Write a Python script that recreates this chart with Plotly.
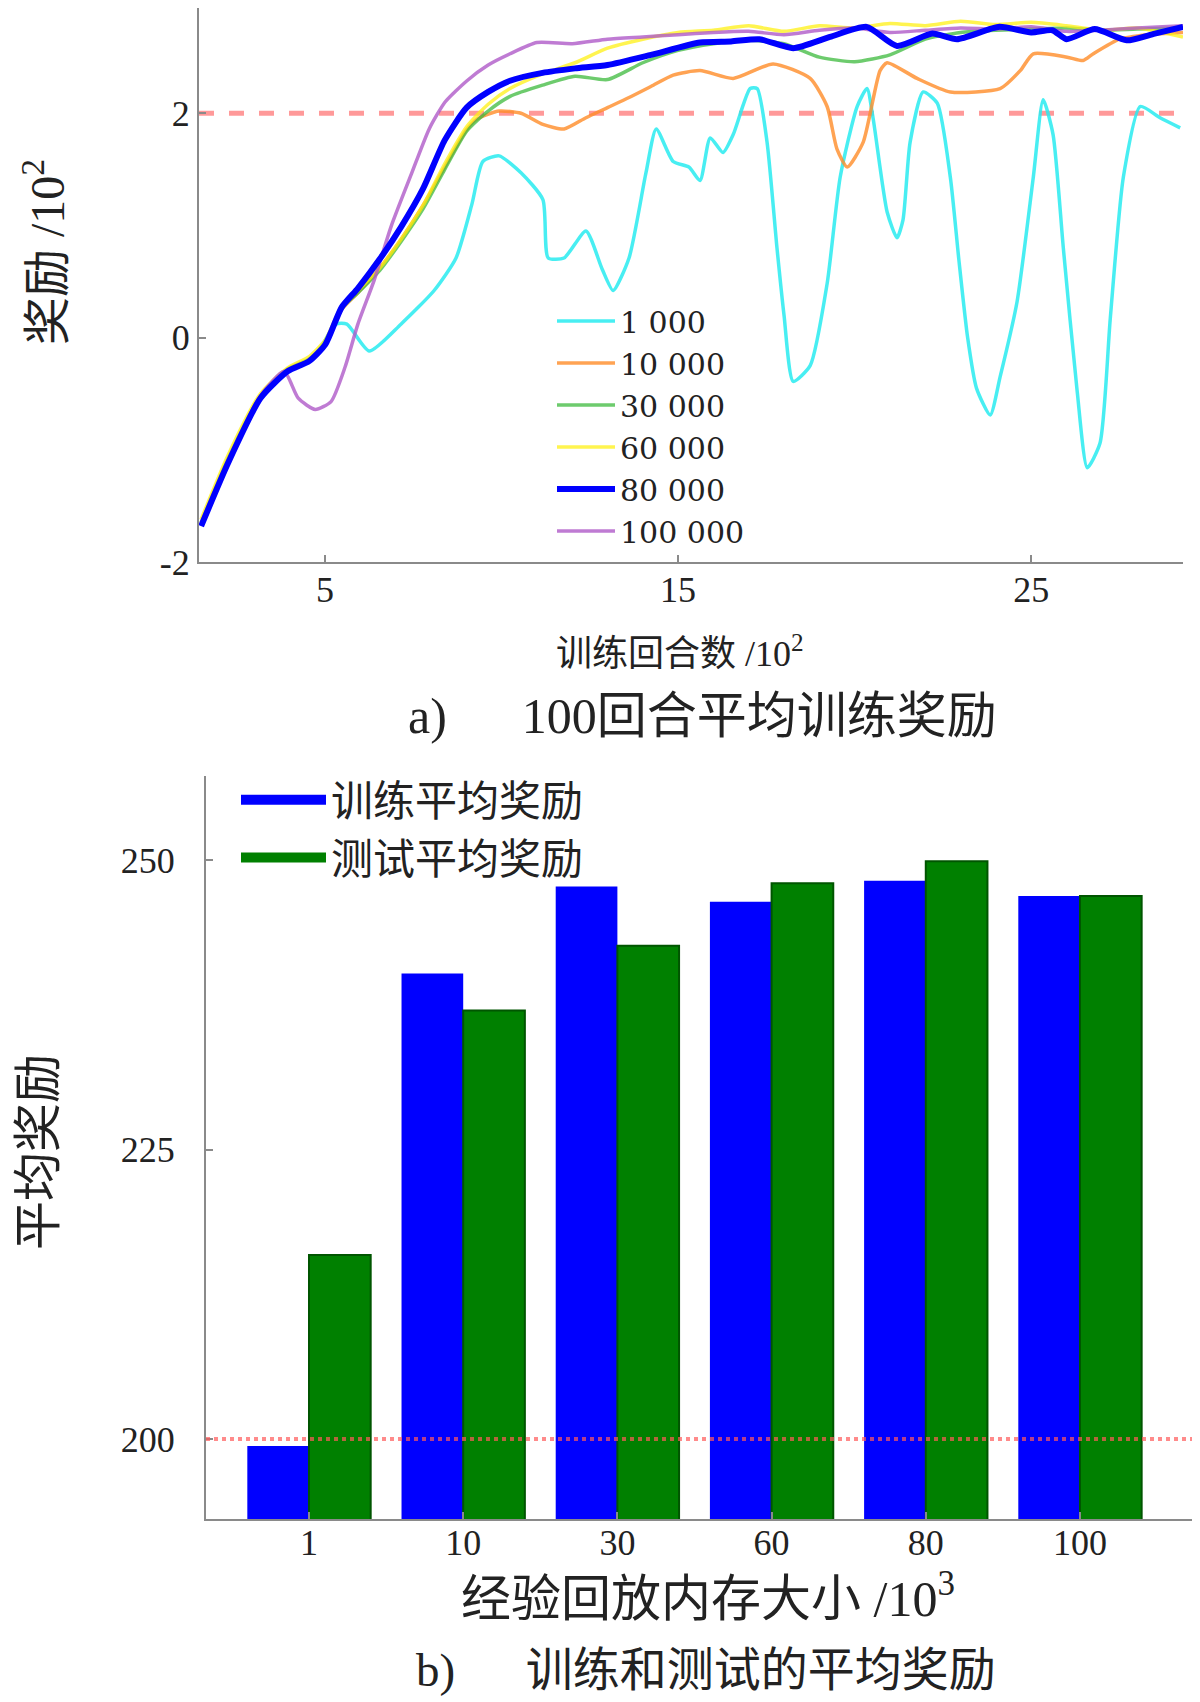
import plotly.graph_objects as go

W, H = 1200, 1702
OFF = 8  # page body margin of the written html

# ---------------- Top chart data (x: episodes /10^2, y: reward /10^2) ----------------
series_names = ["1 000", "10 000", "30 000", "60 000", "80 000", "100 000"]

x_1k = [1.49, 2.25, 3.17, 3.94, 4.72, 5.31, 5.62, 6.25, 7.15, 8.09, 8.71, 9.16, 9.47, 9.93, 10.55,
        11.17, 11.32, 11.77, 12.39, 12.85, 13.16, 13.61, 14.09, 14.38, 14.86, 15.31, 15.62, 15.91,
        16.27, 16.56, 17.04, 17.24, 17.52, 17.80, 18.0, 18.26, 18.74, 19.22, 19.59, 20.07, 20.35,
        20.52, 20.92, 21.20, 21.37, 21.57, 21.94, 22.34, 22.71, 22.95, 23.2, 23.45, 23.84, 24.12,
        24.60, 25.06, 25.34, 25.62, 25.91, 26.30, 26.59, 26.95, 27.24, 27.61, 28.09, 28.65, 29.22]
y_1k = [-1.67, -1.12, -0.54, -0.31, -0.16, 0.12, 0.12, -0.12, 0.12, 0.42, 0.71, 1.19, 1.57, 1.62, 1.47,
        1.23, 0.71, 0.71, 0.95, 0.61, 0.42, 0.71, 1.47, 1.86, 1.57, 1.52, 1.40, 1.78,
        1.65, 1.81, 2.22, 2.22, 1.74, 0.80, 0.20, -0.39, -0.25, 0.48, 1.43, 2.06, 2.22,
        1.96, 1.12, 0.89, 1.05, 1.74, 2.19, 2.09, 1.43, 0.70, 0.00, -0.45, -0.69, -0.35,
        0.32, 1.43, 2.12, 1.81, 0.80, -0.47, -1.16, -0.94, 0.17, 1.43, 2.06, 1.96, 1.87]

x_10k = [1.49, 2.25, 3.17, 3.94, 4.55, 5.01, 5.47, 5.93, 6.55, 7.16, 7.78, 8.39, 9.0, 9.31, 9.93, 10.55,
         11.17, 11.77, 12.39, 13.0, 13.61, 14.24, 14.86, 15.62, 16.56, 17.69, 18.74, 19.22, 19.5,
         19.79, 20.24, 20.72, 20.92, 21.77, 22.71, 24.12, 24.69, 25.06, 26.02, 26.47, 26.76, 27.5,
         28.3, 29.3]
y_10k = [-1.66, -1.10, -0.53, -0.29, -0.20, -0.05, 0.25, 0.40, 0.62, 0.88, 1.18, 1.52, 1.85, 1.95, 2.02, 2.0,
         1.90, 1.86, 1.96, 2.05, 2.14, 2.24, 2.34, 2.38, 2.31, 2.44, 2.31, 2.06, 1.68,
         1.52, 1.74, 2.38, 2.45, 2.31, 2.19, 2.22, 2.38, 2.53, 2.50, 2.47, 2.53, 2.66,
         2.70, 2.72]

x_30k = [1.49, 2.25, 3.17, 3.94, 4.55, 5.01, 5.47, 5.93, 6.55, 7.16, 7.78, 8.39, 9.01, 9.62, 10.24,
         11.16, 12.08, 13.0, 14.0, 15.0, 16.0, 17.0, 18.0, 19.0, 20.0, 21.0, 22.0, 23.0, 24.0,
         25.0, 26.0, 27.0, 28.0, 29.3]
y_30k = [-1.65, -1.08, -0.52, -0.28, -0.19, -0.04, 0.26, 0.40, 0.60, 0.86, 1.15, 1.50, 1.84, 2.02, 2.15,
         2.25, 2.33, 2.30, 2.45, 2.56, 2.62, 2.65, 2.62, 2.50, 2.46, 2.52, 2.66, 2.72, 2.74,
         2.75, 2.76, 2.74, 2.75, 2.76]

x_60k = [1.49, 2.25, 3.17, 3.94, 4.55, 5.01, 5.47, 5.93, 6.55, 7.16, 7.78, 8.39, 9.01, 9.62, 10.24,
         11.16, 12.08, 13.0, 14.0, 15.0, 16.0, 17.0, 18.0, 19.0, 20.0, 21.0, 22.0, 23.0, 24.0,
         25.0, 26.0, 27.0, 28.0, 29.3]
y_60k = [-1.62, -1.05, -0.50, -0.27, -0.17, -0.02, 0.28, 0.42, 0.62, 0.88, 1.18, 1.55, 1.88, 2.08, 2.22,
         2.35, 2.45, 2.58, 2.66, 2.72, 2.74, 2.78, 2.73, 2.78, 2.76, 2.80, 2.78, 2.82, 2.79,
         2.81, 2.78, 2.74, 2.76, 2.68]

x_80k = [1.49, 2.25, 3.17, 3.94, 4.55, 5.01, 5.47, 5.93, 6.55, 7.16, 7.78, 8.39, 9.01, 9.62, 10.24,
         11.16, 12.08, 13.0, 14.23, 15.62, 16.5, 17.3, 18.26, 19.3, 20.34, 21.2, 22.2, 22.9, 24.1,
         25.0, 25.6, 26.0, 26.8, 27.7, 28.5, 29.3]
y_80k = [-1.68, -1.12, -0.54, -0.30, -0.21, -0.06, 0.27, 0.44, 0.70, 0.99, 1.33, 1.76, 2.05, 2.19, 2.29,
         2.36, 2.40, 2.43, 2.52, 2.63, 2.64, 2.66, 2.58, 2.68, 2.77, 2.60, 2.71, 2.66, 2.77,
         2.72, 2.74, 2.66, 2.75, 2.65, 2.71, 2.77]

x_100k = [1.49, 2.25, 3.17, 3.84, 4.24, 4.72, 5.17, 5.57, 5.93, 6.39, 6.87, 7.46, 7.95, 8.40, 9.02, 9.62,
          10.24, 11.0, 12.0, 13.0, 14.0, 15.0, 16.0, 17.0, 18.0, 19.0, 20.0, 21.0, 22.0, 23.0, 24.0,
          25.0, 26.0, 27.0, 28.0, 29.3]
y_100k = [-1.66, -1.10, -0.52, -0.30, -0.54, -0.64, -0.57, -0.26, 0.12, 0.51, 0.99, 1.47, 1.86, 2.10, 2.29, 2.43,
          2.53, 2.63, 2.62, 2.66, 2.68, 2.70, 2.72, 2.73, 2.70, 2.74, 2.76, 2.72, 2.74, 2.76, 2.75,
          2.77, 2.73, 2.74, 2.76, 2.78]

top_threshold = 2.0           # reward threshold (/10^2)
top_xticks = [5, 15, 25]
top_yticks = [-2, 0, 2]
top_yticktext = ["-2", "0", "2"]

# ---------------- Bottom chart data ----------------
memory_sizes = ["1", "10", "30", "60", "80", "100"]
train_avg = [199.4, 240.2, 247.7, 246.4, 248.2, 246.9]
test_avg = [215.9, 237.0, 242.6, 248.0, 249.9, 246.9]
bottom_threshold = 200
bottom_yticks = [200, 225, 250]

FONT = "Liberation Serif, Noto Sans CJK SC, serif"
LEG_FONT = "DejaVu Serif, Noto Sans CJK SC, serif"


def px_x(p):
    return (p - OFF) / W


def px_y(p):
    return min(1.0, 1 - (p - OFF) / H)


fig = go.Figure()

# top threshold line (behind curves)
fig.add_shape(type="line", xref="x domain", yref="y", x0=0, x1=1,
              y0=top_threshold, y1=top_threshold,
              line=dict(color="rgba(255,110,110,0.7)", width=5, dash="dash"), layer="below")

top_series = [
    (series_names[0], x_1k, y_1k, "rgba(40,235,240,0.85)", 3.5, 1),
    (series_names[1], x_10k, y_10k, "rgba(255,140,40,0.80)", 3.5, 2),
    (series_names[2], x_30k, y_30k, "rgba(60,185,60,0.75)", 3.5, 3),
    (series_names[3], x_60k, y_60k, "rgba(255,240,20,0.75)", 3.5, 4),
    (series_names[5], x_100k, y_100k, "rgba(175,90,200,0.80)", 3.5, 6),
    (series_names[4], x_80k, y_80k, "rgb(0,0,255)", 6, 5),
]
for name, xs, ys, col, w, rank in top_series:
    fig.add_trace(go.Scatter(x=xs, y=ys, mode="lines", name=name,
                             line=dict(color=col, width=w, shape="spline", smoothing=0.6),
                             xaxis="x", yaxis="y", legend="legend", legendrank=rank))

# bottom bars
fig.add_trace(go.Bar(x=memory_sizes, y=train_avg, marker=dict(color="#0000FF", line=dict(width=0)),
                     xaxis="x2", yaxis="y2", showlegend=False, name="训练平均奖励"))
fig.add_trace(go.Bar(x=memory_sizes, y=test_avg,
                     marker=dict(color="#008000", line=dict(color="#005500", width=2)),
                     xaxis="x2", yaxis="y2", showlegend=False, name="测试平均奖励"))
# bottom threshold line (over bars)
fig.add_shape(type="line", xref="x2 domain", yref="y2", x0=0, x1=1,
              y0=bottom_threshold, y1=bottom_threshold,
              line=dict(color="rgba(255,90,90,0.7)", width=4, dash="dot"), layer="above")

# bottom legend entries (line samples, as in the original)
fig.add_trace(go.Scatter(x=[None], y=[None], mode="lines", name="训练平均奖励",
                         line=dict(color="#0000FF", width=14), xaxis="x2", yaxis="y2", legend="legend2"))
fig.add_trace(go.Scatter(x=[None], y=[None], mode="lines", name="测试平均奖励",
                         line=dict(color="#008000", width=14), xaxis="x2", yaxis="y2", legend="legend2"))

axis_common = dict(showgrid=False, zeroline=False, showline=True, linecolor="#8a8a8a", linewidth=2,
                   ticks="inside", ticklen=7, tickcolor="#8a8a8a", tickwidth=2,
                   tickfont=dict(family=FONT, size=36, color="#222"), automargin=False, mirror=False)

top_range_max = top_threshold + (114 - OFF) / 113.0

fig.update_layout(
    width=W, height=H,
    margin=dict(l=0, r=0, t=0, b=0),
    paper_bgcolor="white", plot_bgcolor="white",
    font=dict(family=FONT, color="#222"),
    barmode="group", bargap=0.2, bargroupgap=0.0,
    xaxis=dict(domain=[px_x(199), px_x(1183)], range=[1.43, 29.3], tickvals=top_xticks,
               anchor="y", ticklabelstandoff=-5, **axis_common),
    yaxis=dict(domain=[px_y(562), 1.0], range=[-2, top_range_max], tickvals=top_yticks,
               ticktext=top_yticktext, anchor="x", **axis_common),
    xaxis2=dict(domain=[px_x(206), px_x(1193)], type="category", range=[-0.668, 5.733],
                anchor="y2", ticklabelstandoff=-9, **axis_common),
    yaxis2=dict(domain=[px_y(1519), px_y(776)], range=[193.1, 257.25], tickvals=bottom_yticks,
                anchor="x2", ticklabelstandoff=22, **axis_common),
    legend=dict(x=px_x(552), y=px_y(295), xanchor="left", yanchor="top", bgcolor="rgba(0,0,0,0)",
                font=dict(family=LEG_FONT, size=30, color="#222"), itemwidth=58, tracegroupgap=0,
                traceorder="normal"),
    legend2=dict(x=px_x(236), y=px_y(766), xanchor="left", yanchor="top", bgcolor="rgba(0,0,0,0)",
                 font=dict(family=FONT, size=42, color="#222"), itemwidth=85, tracegroupgap=0),
)

annotations = [
    dict(text="奖励 /10<sup>2</sup>", x=px_x(44), y=px_y(252), textangle=-90, font_size=48),
    dict(text="训练回合数 /10<sup>2</sup>", x=px_x(680), y=px_y(651), font_size=36),
    dict(text="a)      100回合平均训练奖励", x=px_x(702), y=px_y(716), font_size=50),
    dict(text="平均奖励", x=px_x(38), y=px_y(1152), textangle=-90, font_size=49),
    dict(text="经验回放内存大小 /10<sup>3</sup>", x=px_x(708), y=px_y(1595), font_size=50),
    dict(text="b)      训练和测试的平均奖励", x=px_x(706), y=px_y(1670), font_size=47),
]
for a in annotations:
    fs = a.pop("font_size")
    fig.add_annotation(xref="paper", yref="paper", showarrow=False, xanchor="center", yanchor="middle",
                       font=dict(family=FONT, size=fs, color="#222"), **a)

fig.write_html("out.html")
